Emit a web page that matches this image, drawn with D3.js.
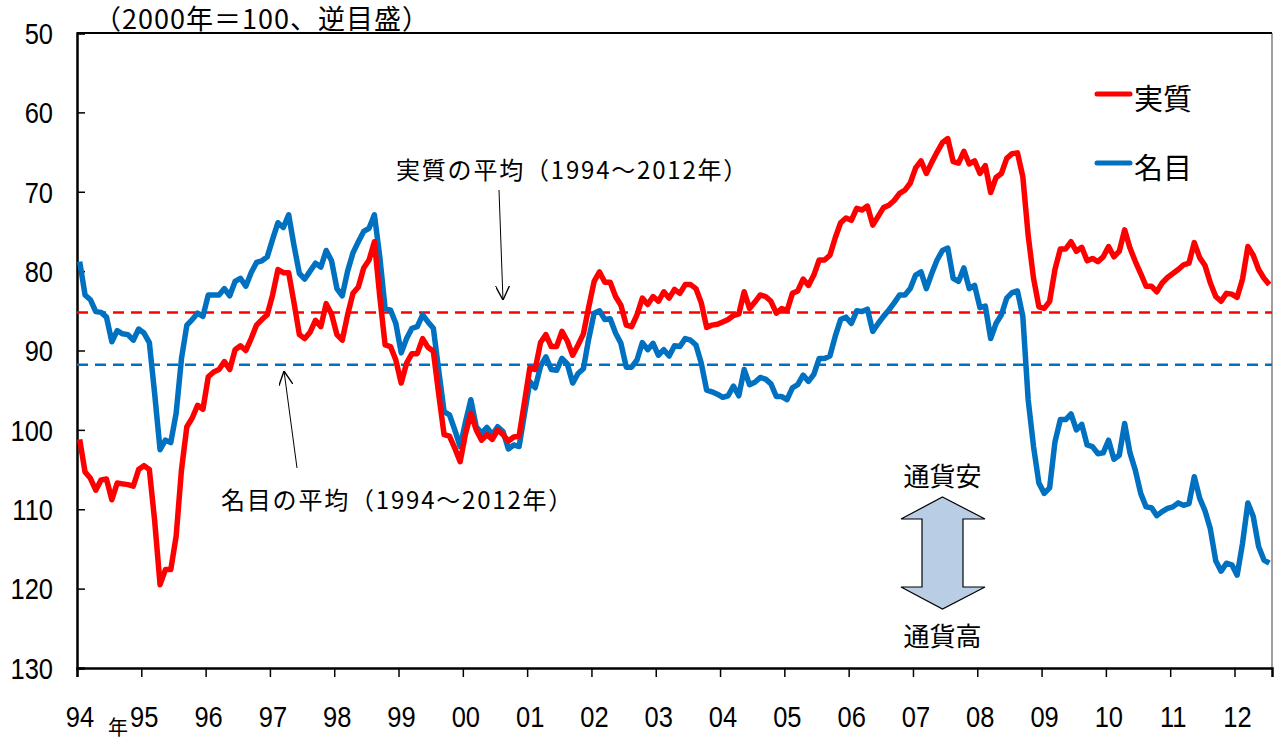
<!DOCTYPE html>
<html>
<head>
<meta charset="utf-8">
<script src="https://cdn.jsdelivr.net/npm/d3@7"></script>
<style>
body { margin: 0; background: #fff; }
text { font-family: 'Noto Sans CJK JP', sans-serif; fill: #000; }
.num { font-family: 'Liberation Sans', Arial, sans-serif; }
</style>
</head>
<body>
<div id="chart"></div>
<script>
// monthly data, Jan 1994 - Jul 2012 (2000 = 100, inverted scale)
var real = [
101.2,105.3,106.1,107.6,106.3,106.2,108.8,106.7,106.8,106.9,107.1,105.0,
104.5,105.0,111.5,119.5,117.6,117.6,113.4,105.0,99.6,98.5,96.9,97.4,
93.3,92.7,92.4,91.4,92.4,89.9,89.4,90.0,88.5,86.8,86.1,85.5,
83.0,79.8,80.2,80.2,84.0,88.0,88.5,87.7,86.2,87.0,84.1,85.4,
88.0,88.7,85.5,82.8,82.0,79.6,78.6,76.3,83.2,89.3,89.5,91.2,
94.1,91.6,90.4,90.4,88.5,89.6,90.1,95.5,100.6,100.8,102.3,104.0,
100.5,97.9,100.0,101.3,100.6,101.2,100.0,100.6,101.4,100.9,100.8,96.5,
92.2,92.4,89.0,88.0,89.5,89.5,87.6,88.8,90.6,89.3,87.9,84.5,
81.3,80.1,81.4,81.4,83.2,84.3,86.8,87.0,85.5,83.4,84.2,83.2,
83.8,82.6,83.4,82.3,82.8,81.7,81.7,82.2,84.0,87.1,86.8,86.7,
86.4,86.1,85.6,85.4,82.6,84.7,83.9,83.0,83.2,83.8,85.3,84.7,
85.0,82.8,82.5,81.0,81.8,80.5,78.6,78.6,78.0,75.8,73.9,73.3,
73.6,72.1,72.3,71.8,74.2,73.1,72.0,71.7,71.1,70.2,69.8,68.9,
67.0,66.1,67.7,66.3,65.0,63.8,63.3,66.2,66.4,64.9,66.5,66.1,
67.7,66.7,70.1,68.2,67.7,65.8,65.2,65.1,68.1,75.5,80.9,84.5,
84.7,83.8,79.8,77.2,77.2,76.3,77.5,77.0,78.7,78.4,78.8,78.2,
76.9,78.2,77.5,74.8,77.1,78.8,80.3,81.9,81.9,82.6,81.5,80.8,
80.3,79.8,79.2,79.0,76.4,78.3,79.3,81.5,83.2,83.8,82.8,82.9,
83.3,81.0,76.9,78.0,79.8,80.9,81.7
];
var nominal = [
78.8,83.0,83.6,85.1,85.2,85.8,88.9,87.5,87.9,88.0,88.7,87.3,
87.8,89.0,95.5,102.5,101.3,101.6,97.9,91.0,86.8,86.1,85.3,85.7,
83.0,83.0,83.0,82.2,83.1,81.3,80.9,81.9,80.2,78.9,78.7,78.2,
76.0,73.9,74.5,72.9,76.8,80.3,81.0,80.0,79.0,79.5,77.4,78.7,
82.2,83.1,80.0,77.7,76.3,75.0,74.6,72.9,78.2,84.7,84.9,86.6,
90.3,88.5,87.2,87.0,85.5,86.4,87.2,92.5,97.7,98.1,100.0,102.1,
99.0,96.2,99.6,100.4,99.7,100.6,99.6,100.2,102.4,101.9,102.1,98.0,
93.9,94.7,92.0,90.8,92.4,92.5,91.0,91.7,94.1,92.9,92.3,88.5,
85.3,85.0,86.1,86.0,87.8,89.1,92.1,92.1,91.2,89.0,89.9,89.1,
90.6,89.9,90.7,89.4,89.5,88.5,88.7,89.3,91.6,95.0,95.2,95.5,
95.9,95.7,94.5,95.7,92.4,94.3,94.0,93.4,93.6,94.2,95.8,95.8,
96.2,94.7,94.3,93.1,93.9,93.0,91.0,91.0,90.7,88.2,86.1,85.8,
86.6,85.0,85.1,84.8,87.6,86.6,85.7,84.9,84.0,83.0,83.0,82.2,
80.5,80.1,82.2,80.3,78.6,77.4,77.1,80.9,81.3,79.6,82.2,81.8,
84.6,84.4,88.5,86.6,85.5,83.4,82.7,82.5,85.7,96.2,102.1,106.7,
108.0,107.3,101.5,98.7,98.7,98.0,100.0,99.3,101.9,102.1,103.0,102.9,
101.3,103.7,103.2,99.2,102.9,105.1,108.0,109.7,109.8,110.8,110.3,109.9,
109.7,109.2,109.5,109.3,105.9,108.6,110.2,112.5,116.5,117.8,116.8,117.0,
118.3,114.3,109.2,110.9,114.7,116.4,116.8
];
var yearLabels = ["94","95","96","97","98","99","00","01","02","03","04","05","06","07","08","09","10","11","12"];
var yTicks = [50, 60, 70, 80, 90, 100, 110, 120, 130];
var avgReal = 85.2;
var avgNominal = 91.8;

var width = 1275, height = 742;
var plotLeft = 77, plotRight = 1272, plotTop = 33, plotBottom = 668;

var svg = d3.select("#chart").append("svg")
  .attr("width", width)
  .attr("height", height);

var x = d3.scaleLinear().domain([0, 223]).range([plotLeft, plotRight]);
var y = d3.scaleLinear().domain([50, 130]).range([plotTop, plotBottom]);

// narrow digits (reference uses a condensed face)
function narrowText(px, py, anchor) {
  return svg.append("text")
    .attr("class", "num")
    .attr("transform", "translate(" + px + "," + py + ") scale(0.85,1)")
    .attr("dy", "0.36em")
    .attr("text-anchor", anchor)
    .style("font-size", "30px");
}

// frame
svg.append("line")
  .attr("x1", plotRight).attr("x2", plotRight).attr("y1", plotTop).attr("y2", plotBottom)
  .attr("stroke", "#808080").attr("stroke-width", 1.5);
svg.append("line")
  .attr("x1", plotLeft).attr("x2", plotRight).attr("y1", plotTop).attr("y2", plotTop)
  .attr("stroke", "#000").attr("stroke-width", 2);

// y axis: ticks inside
var yAxis = d3.axisRight(y).tickValues(yTicks).tickSize(8).tickFormat("");
svg.append("g")
  .attr("transform", "translate(" + plotLeft + ",0)")
  .call(yAxis)
  .call(g => g.select(".domain").attr("stroke-width", 2.5))
  .call(g => g.selectAll(".tick line").attr("stroke-width", 1.5));

yTicks.forEach(function (d) {
  narrowText(53, y(d), "end").text(d);
});

// x axis: one tick per year
var yearTicks = d3.range(0, 217, 12);
var xAxis = d3.axisBottom(x).tickValues(yearTicks).tickSize(9).tickFormat("");
svg.append("g")
  .attr("transform", "translate(0," + plotBottom + ")")
  .call(xAxis)
  .call(g => g.select(".domain").attr("stroke-width", 2.5))
  .call(g => g.selectAll(".tick line").attr("stroke-width", 1.5));

yearLabels.forEach(function (d, i) {
  narrowText(x(i * 12) + 3, 716, "middle").text(d);
});

svg.append("text")
  .attr("x", 118).attr("y", 728)
  .attr("dy", "0.36em")
  .attr("text-anchor", "middle")
  .style("font-size", "20px")
  .text("年");

// title
svg.append("text")
  .attr("x", 94).attr("y", 19)
  .attr("dy", "0.36em")
  .style("font-size", "27px")
  .style("letter-spacing", "1px")
  .text("（2000年＝100、逆目盛）");

// average lines
svg.append("line")
  .attr("x1", plotLeft).attr("x2", plotRight)
  .attr("y1", y(avgReal)).attr("y2", y(avgReal))
  .attr("stroke", "#FF0000").attr("stroke-width", 2.5)
  .attr("stroke-dasharray", "11,7");
svg.append("line")
  .attr("x1", plotLeft).attr("x2", plotRight)
  .attr("y1", y(avgNominal)).attr("y2", y(avgNominal))
  .attr("stroke", "#0070C0").attr("stroke-width", 2.5)
  .attr("stroke-dasharray", "11,7");

// series
var line = d3.line()
  .x((d, i) => x(i + 0.5))
  .y(d => y(d));

svg.append("path")
  .datum(nominal)
  .attr("fill", "none")
  .attr("stroke", "#0070C0")
  .attr("stroke-width", 5.5)
  .attr("stroke-linejoin", "round")
  .attr("d", line);

svg.append("path")
  .datum(real)
  .attr("fill", "none")
  .attr("stroke", "#FF0000")
  .attr("stroke-width", 5.5)
  .attr("stroke-linejoin", "round")
  .attr("d", line);

// legend
var legend = [{name: "実質", color: "#FF0000", y: 94}, {name: "名目", color: "#0070C0", y: 163}];
legend.forEach(function (d) {
  svg.append("line")
    .attr("x1", 1097).attr("x2", 1130).attr("y1", d.y).attr("y2", d.y)
    .attr("stroke", d.color).attr("stroke-width", 5).attr("stroke-linecap", "round");
  svg.append("text")
    .attr("x", 1134).attr("y", d.y + 6)
    .attr("dy", "0.36em")
    .style("font-size", "29px")
    .text(d.name);
});

// annotations with arrows
var defs = svg.append("defs");
defs.append("marker")
  .attr("id", "open")
  .attr("viewBox", "0 0 10 10")
  .attr("refX", 10).attr("refY", 5)
  .attr("markerWidth", 14).attr("markerHeight", 14)
  .attr("markerUnits", "userSpaceOnUse")
  .attr("orient", "auto")
  .append("path")
  .attr("d", "M0,0 L10,5 L0,10")
  .attr("fill", "none").attr("stroke", "#000").attr("stroke-width", 1);

svg.append("text")
  .attr("x", 396).attr("y", 170)
  .attr("dy", "0.36em")
  .style("font-size", "24px")
  .style("letter-spacing", "1.8px")
  .text("実質の平均（1994～2012年）");
svg.append("line")
  .attr("x1", 499).attr("y1", 190).attr("x2", 503).attr("y2", 300)
  .attr("stroke", "#000").attr("stroke-width", 1)
  .attr("marker-end", "url(#open)");

svg.append("text")
  .attr("x", 221).attr("y", 500)
  .attr("dy", "0.36em")
  .style("font-size", "24px")
  .style("letter-spacing", "1.8px")
  .text("名目の平均（1994～2012年）");
svg.append("line")
  .attr("x1", 297).attr("y1", 468).attr("x2", 284).attr("y2", 371)
  .attr("stroke", "#000").attr("stroke-width", 1)
  .attr("marker-end", "url(#open)");

// double arrow: currency weak / strong
var cx = 942.5;
var arrowPts = [
  [cx, 497], [985, 519], [963, 519], [963, 587], [985, 587],
  [cx, 609], [901, 587], [922, 587], [922, 519], [901, 519]
];
svg.append("polygon")
  .attr("points", arrowPts.map(p => p.join(",")).join(" "))
  .attr("fill", "#B9CDE5")
  .attr("stroke", "#000")
  .attr("stroke-width", 1.2);

svg.append("text")
  .attr("x", cx).attr("y", 477)
  .attr("dy", "0.36em")
  .attr("text-anchor", "middle")
  .style("font-size", "26px")
  .text("通貨安");
svg.append("text")
  .attr("x", cx).attr("y", 637)
  .attr("dy", "0.36em")
  .attr("text-anchor", "middle")
  .style("font-size", "26px")
  .text("通貨高");
</script>
</body>
</html>
